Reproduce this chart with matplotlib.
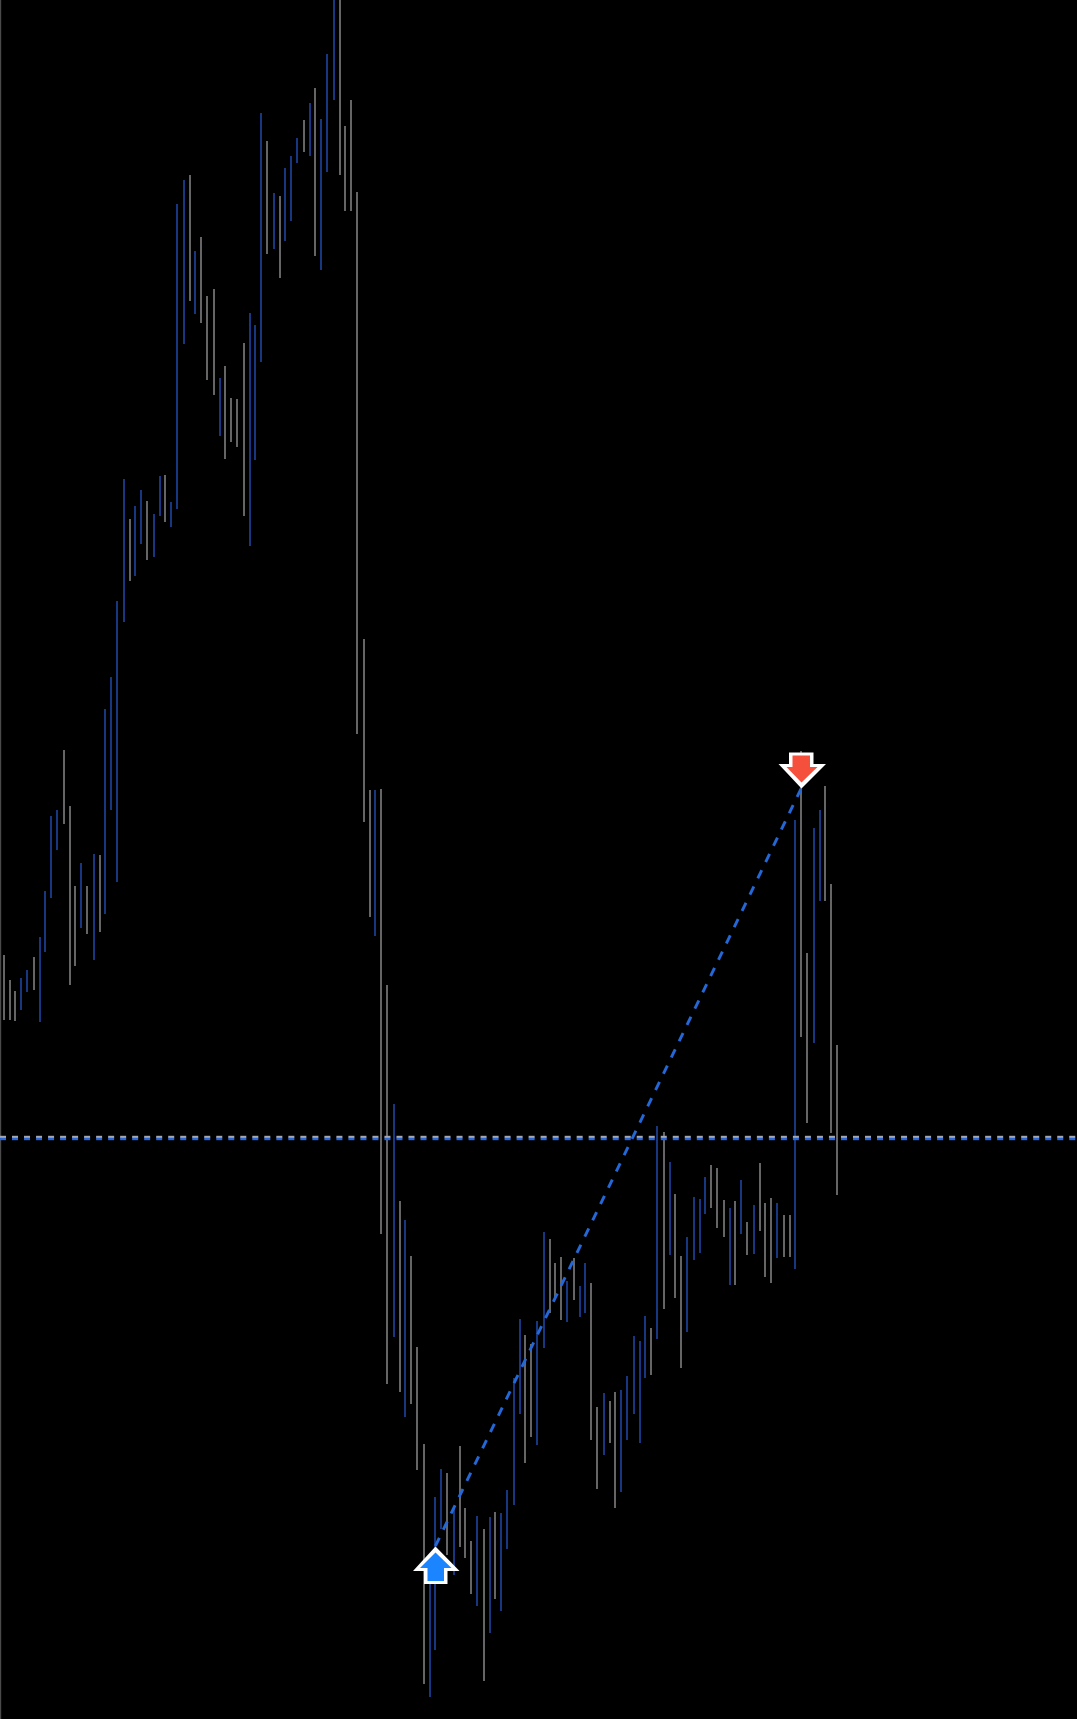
import numpy as np
import matplotlib
matplotlib.use('Agg')
import matplotlib.pyplot as plt
from matplotlib.path import Path

bar_top = [955, 980, 991, 978, 970, 957, 937, 891, 816, 810,
           750, 806, 886, 863, 886, 854, 855, 709, 677, 601,
           479, 519, 506, 490, 501, 514, 476, 475, 502, 204,
           180, 175, 251, 237, 296, 289, 378, 366, 398, 399,
           343, 313, 325, 113, 141, 193, 196, 168, 156, 138,
           120, 103, 88, 119, 54, -2, -2, 126, 100, 192,
           639, 790, 790, 789, 985, 1104, 1201, 1220, 1256, 1347,
           1444, 1575, 1497, 1469, 1473, 1506, 1446, 1508, 1541, 1516,
           1529, 1517, 1512, 1513, 1490, 1378, 1319, 1335, 1344, 1321,
           1232, 1239, 1263, 1257, 1281, 1258, 1286, 1263, 1283, 1407,
           1393, 1401, 1392, 1390, 1376, 1336, 1341, 1316, 1328, 1126,
           1132, 1162, 1194, 1256, 1237, 1197, 1199, 1177, 1165, 1168,
           1200, 1208, 1201, 1180, 1222, 1205, 1163, 1203, 1198, 1203,
           1215, 1215, 820, 751, 953, 828, 810, 786, 884, 1045]
bar_bottom = [1020, 1020, 1021, 1010, 992, 990, 1022, 952, 898, 850,
              824, 985, 966, 928, 934, 960, 932, 914, 810, 882,
              622, 581, 576, 544, 560, 557, 516, 522, 527, 509,
              344, 301, 314, 323, 380, 395, 436, 459, 442, 447,
              516, 546, 460, 362, 254, 249, 278, 241, 221, 163,
              152, 156, 256, 270, 172, 100, 175, 211, 211, 734,
              822, 917, 936, 1234, 1384, 1337, 1392, 1417, 1404, 1470,
              1684, 1697, 1650, 1529, 1555, 1575, 1547, 1558, 1594, 1606,
              1681, 1633, 1599, 1611, 1549, 1505, 1414, 1463, 1437, 1445,
              1348, 1313, 1298, 1320, 1322, 1300, 1317, 1313, 1440, 1489,
              1455, 1443, 1508, 1492, 1440, 1414, 1443, 1378, 1375, 1339,
              1309, 1255, 1298, 1368, 1332, 1260, 1253, 1214, 1208, 1228,
              1237, 1285, 1285, 1234, 1255, 1254, 1231, 1277, 1283, 1258,
              1257, 1257, 1269, 1037, 1123, 1043, 901, 901, 1133, 1195]
# Which bars are blue; the rest are grey.
blue_idx = [3, 4, 6, 7, 8, 9, 13, 15, 17, 18, 19, 20, 22, 23, 25, 26, 28, 29, 30,
            32, 36, 41, 42, 43, 45, 47, 48, 49, 51, 53, 54, 55, 62, 65, 67, 71, 72,
            73, 75, 79, 81, 83, 84, 85, 86, 89, 90, 94, 96, 97, 100, 103, 104, 105,
            106, 107, 109, 111, 114, 115, 116, 117, 121, 123, 125, 129, 132, 135, 136]

level = 1138
buy_bar, buy_price = 72, 1546
sell_bar, sell_price = 133, 788

BLUE = '#1f48a8'
GREY = '#858585'

# Arrow outlines in pixels, tip at the origin.
up_outer = [(0, 0), (24, -24.5), (12, -24.5), (12, -37.5), (-11.5, -37.5), (-11.5, -24.5), (-22.5, -24.5)]
up_inner = [(0, -6), (16, -21.5), (8.5, -21.5), (8.5, -34.5), (-8, -34.5), (-8, -21.5), (-15.5, -21.5)]
down_outer = [(0, 0), (24.5, 24.5), (12, 24.5), (12, 36), (-12.5, 36), (-12.5, 24.5), (-23, 24.5)]
down_inner = [(0, 6), (16, 21.5), (8.5, 21.5), (8.5, 33), (-9, 33), (-9, 21.5), (-15, 21.5)]


def draw_arrow(ax, x, y, pts, color, zorder):
    verts = pts + [pts[0]]
    codes = [Path.MOVETO] + [Path.LINETO] * (len(pts) - 1) + [Path.CLOSEPOLY]
    # matplotlib scales a custom marker so its largest coordinate is size / 2
    size = 2 * np.abs(pts).max() * 0.72
    ax.plot([x], [y], marker=Path(verts, codes), ms=size, mfc=color, mec='none',
            ls='none', zorder=zorder)


fig = plt.figure(figsize=(10.77, 17.19), dpi=100, facecolor='black')
ax = fig.add_axes([0, 0, 1, 1], facecolor='black')
ax.set_xlim(-3.4 / 6, (1077 - 3.4) / 6)
ax.set_ylim(1719, 0)
ax.axis('off')

# bars sit on a 6 px grid with a small repeating rounding drift
drift = np.array([0.3, 0.3, -0.1, -0.4, -0.4]) / 6
slots = np.arange(len(bar_top))
slots_x = slots + drift[slots % 5]
colors = [BLUE if i in blue_idx else GREY for i in slots]
ax.vlines(slots_x, bar_top, bar_bottom, colors=colors, lw=1.1, zorder=2)

# left edge of the chart
ax.axvline(-3.4 / 6 + 0.08, color='#4a4a4a', lw=1.0, zorder=1)

# horizontal level: grey dashes sitting on blue dashes
ax.plot(ax.get_xlim(), [level - 1, level - 1], color='#a4a8b0', lw=1.73, ls=(0, (2.5, 2.5)),
        dash_capstyle='butt', zorder=3)
ax.plot(ax.get_xlim(), [level + 1, level + 1], color='#2a66d8', lw=1.73, ls=(0, (2.5, 2.5)),
        dash_capstyle='butt', zorder=3)

# dashed link between the two signals
ax.plot([buy_bar, sell_bar], [buy_price, sell_price], color='#2468d8', lw=2.1,
        ls=(0, (3.1, 3.1)), dash_capstyle='butt', zorder=4)

draw_arrow(ax, buy_bar, buy_price, up_outer, 'white', 5)
draw_arrow(ax, buy_bar, buy_price, up_inner, '#1a85ff', 6)
draw_arrow(ax, sell_bar, sell_price, down_outer, 'white', 5)
draw_arrow(ax, sell_bar, sell_price, down_inner, '#f4503c', 6)

fig.savefig('out.png', dpi=100, facecolor='black')
